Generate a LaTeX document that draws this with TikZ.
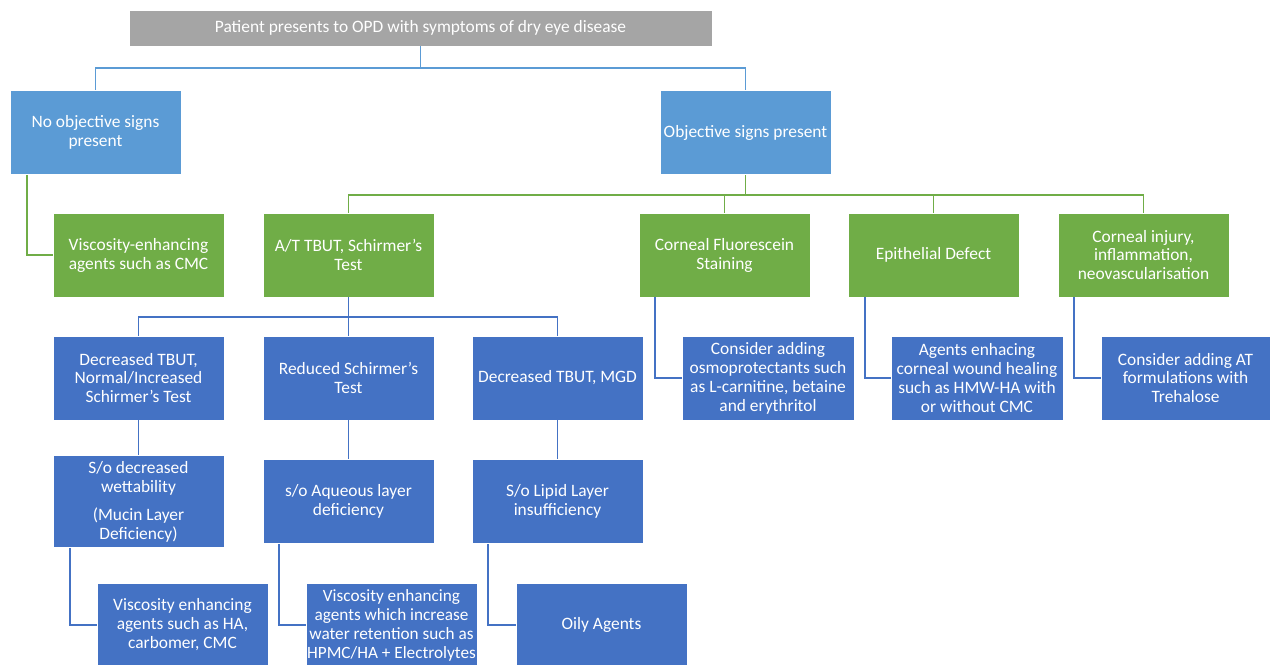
\documentclass[tikz,border=0pt]{standalone}
\usepackage{fontspec}
\setmainfont{Carlito}
\usepackage{tikz}

\definecolor{greyfill}{HTML}{A5A5A5}
\definecolor{lightblue}{HTML}{5B9BD5}
\definecolor{leafgreen}{HTML}{70AD47}
\definecolor{darkblue}{HTML}{4472C4}

\begin{document}
\begin{tikzpicture}[x=0.02cm,y=-0.02cm,
    font=\fontsize{9.9}{10.8}\selectfont,
    box/.style = {draw=white, line width=0.3pt, text=white, align=center, inner xsep=1pt, minimum width=3.42cm, minimum height=1.69cm},
    greybox/.style = {box, fill=greyfill, minimum width=11.66cm, minimum height=0.72cm},
    lbox/.style = {box, fill=lightblue},
    gbox/.style = {box, fill=leafgreen, minimum height=1.68cm},
    dbox/.style = {box, fill=darkblue},
    lline/.style = {draw=lightblue, line width=1pt},
    gline/.style = {draw=leafgreen, line width=1pt},
    dline/.style = {draw=darkblue, line width=1pt}]
        \useasboundingbox (0,0) rectangle (1270,664);
        % top
        \node[greybox] (top) at (420.5,28) {Patient presents to OPD with symptoms of dry eye disease};
        \node[lbox] (noobj) at (95.5,132.5) {No objective signs\\present};
        \node[lbox] (obj) at (745.5,132.5) {Objective signs present};
        % green row
        \node[gbox] (visc) at (138.5,255) {Viscosity-enhancing\\agents such as CMC};
        \node[gbox] (at) at (348.5,255) {A/T TBUT, Schirmer's\\Test};
        \node[gbox] (cfs) at (724.5,255) {Corneal Fluorescein\\Staining};
        \node[gbox] (epi) at (933.5,255) {Epithelial Defect};
        \node[gbox] (cinj) at (1143.5,255) {Corneal injury,\\inflammation,\\neovascularisation};
        % tests
        \node[dbox, minimum height=1.68cm] (dtbut) at (138.5,378) {Decreased TBUT,\\Normal/Increased\\Schirmer's Test};
        \node[dbox, minimum height=1.68cm] (rsch) at (348.5,378) {Reduced Schirmer's\\Test};
        \node[dbox, minimum height=1.68cm] (mgd) at (557.5,378) {Decreased TBUT, MGD};
        \node[dbox, minimum height=1.68cm, minimum width=3.44cm] (osmo) at (768,378) {Consider adding\\osmoprotectants such\\as L-carnitine, betaine\\and erythritol};
        \node[dbox, minimum height=1.68cm, minimum width=3.44cm] (wound) at (977,378) {Agents enhacing\\corneal wound healing\\such as HMW-HA with\\or without CMC};
        \node[dbox, minimum height=1.68cm, minimum width=3.38cm] (treh) at (1185.5,378) {Consider adding AT\\formulations with\\Trehalose};
        % deficiencies
        \node[dbox] (wett) at (138.5,501.5) {S/o decreased\\wettability\\[5pt](Mucin Layer\\Deficiency)};
        \node[dbox] (aq) at (348.5,501.5) {s/o Aqueous layer\\deficiency};
        \node[dbox] (lip) at (557.5,501.5) {S/o Lipid Layer\\insufficiency};
        % agents
        \node[dbox] (vha) at (182.5,625) {Viscosity enhancing\\agents such as HA,\\carbomer, CMC};
        \node[dbox, inner xsep=0pt, font=\fontsize{9.8}{10.8}\selectfont] (hpmc) at (391.5,625) {Viscosity enhancing\\agents which increase\\water retention such as\\HPMC/HA + Electrolytes};
        \node[dbox] (oily) at (601.5,625) {Oily Agents};
        % connectors
        \draw[lline] (top.south) -- ++(0,22) -| (noobj.north);
        \draw[lline] (top.south) -- ++(0,22) -| (obj.north);
        \draw[gline] ([xshift=0.34cm]noobj.south west) |- (visc.west);
        \draw[gline] (obj.south) -- ++(0,20) -| (at.north);
        \draw[gline] (obj.south) -- ++(0,20) -| (cfs.north);
        \draw[gline] (obj.south) -- ++(0,20) -| (epi.north);
        \draw[gline] (obj.south) -- ++(0,20) -| (cinj.north);
        \draw[dline] (at.south) -- ++(0,20) -| (dtbut.north);
        \draw[dline] (at.south) -- ++(0,20) -| (rsch.north);
        \draw[dline] (at.south) -- ++(0,20) -| (mgd.north);
        \draw[dline] (dtbut) -- (wett);
        \draw[dline] (rsch) -- (aq);
        \draw[dline] (mgd) -- (lip);
        \draw[dline] ([xshift=0.34cm]wett.south west) |- (vha.west);
        \draw[dline] ([xshift=0.32cm]aq.south west) |- (hpmc.west);
        \draw[dline] ([xshift=0.32cm]lip.south west) |- (oily.west);
        \draw[dline] ([xshift=0.32cm]cfs.south west) |- (osmo.west);
        \draw[dline] ([xshift=0.34cm]epi.south west) |- (wound.west);
        \draw[dline] ([xshift=0.32cm]cinj.south west) |- (treh.west);
\end{tikzpicture}
\end{document}
